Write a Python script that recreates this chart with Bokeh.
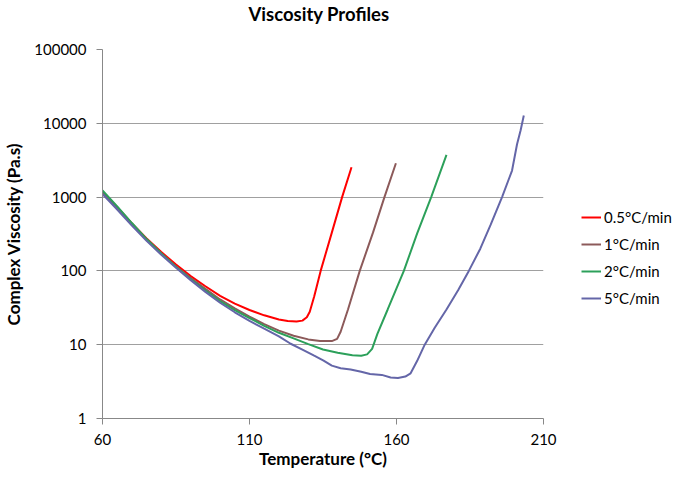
from bokeh.plotting import figure
from bokeh.models import FixedTicker, NumeralTickFormatter, Legend, LegendItem, Range1d, Title
from bokeh.embed import file_html
from bokeh.resources import INLINE

title_text = "Viscosity Profiles"
x_label = "Temperature (°C)"
y_label = "Complex Viscosity (Pa.s)"
x_ticks = [60, 110, 160, 210]
y_ticks = [1, 10, 100, 1000, 10000, 100000]

series_names = ["0.5°C/min", "1°C/min", "2°C/min", "5°C/min"]
series_colors = ["#FF0000", "#8C5A5A", "#2CA05A", "#6466A8"]

t_05 = [60, 65, 70, 75, 80, 85, 90, 95, 100, 105, 110, 115, 120, 123, 126, 128, 129.5, 130.5, 132, 134.2, 138, 141.5, 144.7]
v_05 = [1180, 730, 440, 275, 180, 122, 85, 62, 46, 36, 29.5, 25, 22, 21, 20.6, 21.2, 23.5, 28, 45, 100, 330, 1000, 2540]

t_1 = [60, 65, 70, 75, 80, 85, 90, 95, 100, 105, 110, 115, 120, 125, 130, 134, 138, 139.8, 141, 143.5, 147.5, 152, 155.9, 159.8]
v_1 = [1150, 710, 430, 265, 172, 115, 80, 57, 41, 31, 24, 19, 15.5, 13.2, 11.8, 11.2, 11.2, 12, 15, 30, 100, 330, 1000, 2880]

t_2 = [60, 65, 70, 75, 80, 85, 90, 95, 100, 105, 110, 115, 120, 125, 130, 135, 140, 145, 148, 150, 151.7, 153.5, 157, 162.5, 167, 171.8, 177]
v_2 = [1230, 750, 445, 270, 172, 113, 77, 54, 39, 29.5, 23, 18, 14.5, 12.2, 10.2, 8.6, 7.8, 7.2, 7.1, 7.4, 8.8, 14, 30, 100, 320, 1000, 3740]

t_5 = [60, 65, 70, 75, 80, 85, 90, 95, 100, 105, 110, 115, 120, 124, 128, 132, 135.2, 138, 141, 144.4, 148, 151, 155, 158, 160.5, 163, 164.8, 167, 169.6, 173, 177, 181, 184.6, 188.5, 192, 195.9, 199.3, 201, 202.2, 203.3]
v_5 = [1100, 680, 410, 255, 165, 110, 75, 52, 37, 27.5, 21, 16.5, 13, 10.3, 8.6, 7.1, 6.1, 5.2, 4.8, 4.6, 4.3, 4.0, 3.9, 3.6, 3.55, 3.7, 4.1, 6, 10, 17, 30, 55, 100, 200, 420, 1000, 2290, 5200, 8000, 12760]

FONT = "Lato"

p = figure(frame_width=441, frame_height=369, y_axis_type="log",
           x_range=Range1d(60, 210), y_range=Range1d(1, 100000),
           output_backend="svg", toolbar_location=None,
           min_border_left=94, min_border_right=125, min_border_top=41, min_border_bottom=50)

p.title.text = title_text
p.title.align = "left"
p.title.offset = 146
p.title.standoff = 0
p.title.text_font = FONT
p.title.text_font_size = "18.5px"
p.title.text_font_style = "bold"
p.title.text_color = "#000000"

pad = Title(text=" ", text_font=FONT, text_font_size="10px", standoff=11)
p.add_layout(pad, "above")

renderers = []
for t, v, c in zip([t_05, t_1, t_2, t_5], [v_05, v_1, v_2, v_5], series_colors):
    r = p.line(t, v, line_color=c, line_width=2)
    renderers.append(r)

p.outline_line_color = None
p.xgrid.visible = False
p.ygrid.grid_line_color = "#A0A0A0"
p.ygrid.grid_line_width = 1
p.ygrid.ticker = FixedTicker(ticks=y_ticks)

p.xaxis.ticker = FixedTicker(ticks=x_ticks)
p.yaxis.ticker = FixedTicker(ticks=y_ticks)
p.yaxis.formatter = NumeralTickFormatter(format="0")

for ax in (p.xaxis[0], p.yaxis[0]):
    ax.axis_line_color = "#888888"
    ax.major_tick_line_color = "#888888"
    ax.minor_tick_line_color = None
    ax.major_tick_in = 0
    ax.major_tick_out = 6
    ax.major_label_text_font = FONT
    ax.major_label_text_font_size = "15px"
    ax.major_label_text_color = "#000000"
    ax.axis_label_text_font = FONT
    ax.axis_label_text_font_style = "bold"
    ax.axis_label_text_color = "#000000"

p.xaxis.major_label_standoff = 9
p.yaxis.major_label_standoff = 10
p.xaxis.axis_label = x_label
p.yaxis.axis_label = y_label
p.xaxis.axis_label_text_font_size = "17px"
p.yaxis.axis_label_text_font_size = "17px"
p.xaxis.axis_label_standoff = 0
p.yaxis.axis_label_standoff = 7

legend = Legend(items=[LegendItem(label=n, renderers=[r]) for n, r in zip(series_names, renderers)],
                location=(38, 110))
legend.border_line_color = None
legend.background_fill_alpha = 0
legend.margin = 0
legend.padding = 0
legend.spacing = 7
legend.glyph_width = 20
legend.glyph_height = 20
legend.label_height = 20
legend.label_standoff = 3
legend.label_text_font = FONT
legend.label_text_font_size = "15px"
legend.label_text_color = "#000000"
p.add_layout(legend, "right")

open("out.html", "w").write(file_html(p, INLINE))
